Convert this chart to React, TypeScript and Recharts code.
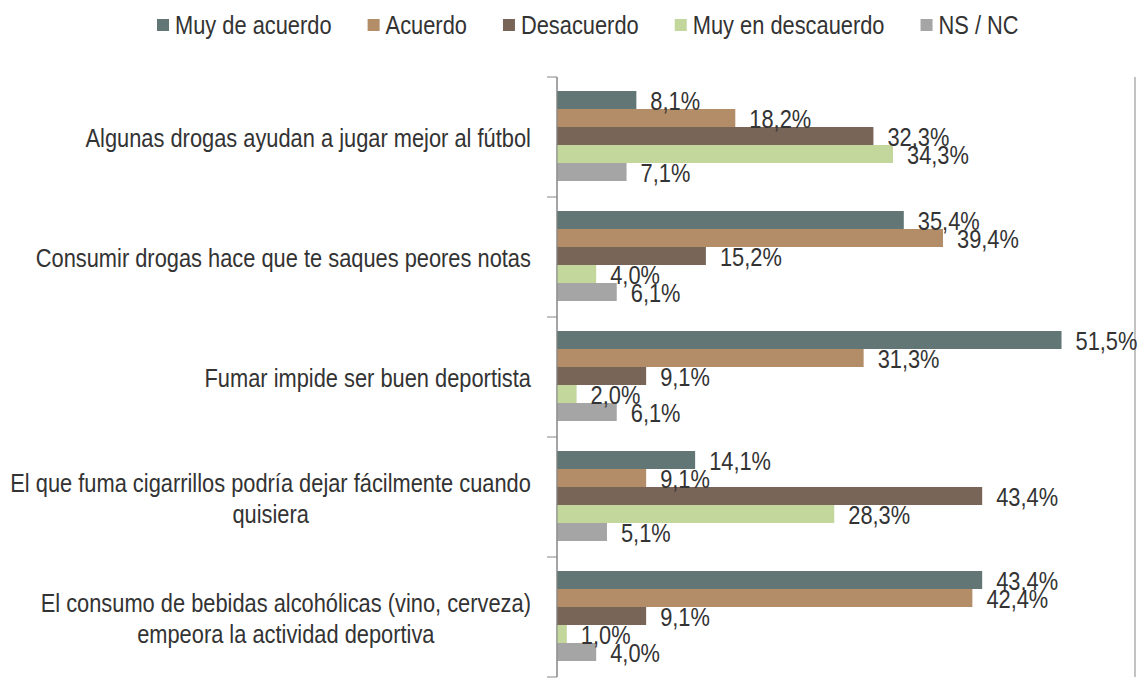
import { BarChart, Bar, XAxis, YAxis, CartesianGrid, LabelList } from 'recharts'

const categories = [
  'Algunas drogas ayudan a jugar mejor al fútbol',
  'Consumir drogas hace que te saques peores notas',
  'Fumar impide ser buen deportista',
  'El que fuma cigarrillos podría dejar fácilmente cuando\nquisiera',
  'El consumo de bebidas alcohólicas (vino, cerveza)\nempeora la actividad deportiva',
]

const seriesNames = ['Muy de acuerdo', 'Acuerdo', 'Desacuerdo', 'Muy en descauerdo', 'NS / NC']
const seriesColors = ['#627675', '#B38D68', '#786558', '#C3D69B', '#A5A5A5']

const muyDeAcuerdo = [8.1, 35.4, 51.5, 14.1, 43.4]
const acuerdo = [18.2, 39.4, 31.3, 9.1, 42.4]
const desacuerdo = [32.3, 15.2, 9.1, 43.4, 9.1]
const muyEnDesacuerdo = [34.3, 4.0, 2.0, 28.3, 1.0]
const nsnc = [7.1, 6.1, 6.1, 5.1, 4.0]

const xTicks = [0, 10, 20, 30, 40, 50]

const seriesValues = [muyDeAcuerdo, acuerdo, desacuerdo, muyEnDesacuerdo, nsnc]
const keys = ['s0', 's1', 's2', 's3', 's4']

const data = categories.map((name, i) => {
  const row: Record<string, string | number> = { name }
  seriesValues.forEach((vals, s) => {
    row[keys[s]] = vals[i]
  })
  return row
})

// no narrow font installed, so squeeze Liberation Sans horizontally
const FONT = "'Liberation Sans', Arial, sans-serif"
const FS = 26
const SX = 0.84
const TEXT = '#333333'
const GRID = '#868686'

const W = 1138
const H = 678
const MARGIN = { top: 77, right: 3, bottom: 1, left: 0 }
const Y_WIDTH = 557
const TICK_MARGIN = 26
const BAND = (H - MARGIN.top - MARGIN.bottom) / categories.length

let ctx: CanvasRenderingContext2D | null = null
function measure(t: string) {
  if (!ctx) {
    ctx = document.createElement('canvas').getContext('2d')
    if (ctx) ctx.font = `${FS}px ${FONT}`
  }
  return ctx ? ctx.measureText(t).width * SX : t.length * FS * 0.45
}

function SqText({ x, y, anchor, children }: { x: number; y: number; anchor: 'start' | 'middle' | 'end'; children: string }) {
  return (
    <text
      transform={`translate(${x},${y}) scale(${SX},1)`}
      textAnchor={anchor}
      dominantBaseline="central"
      fontFamily={FONT}
      fontSize={FS}
      fill={TEXT}
    >
      {children}
    </text>
  )
}

function CatTick(props: any) {
  const { x, y, payload, index } = props
  const lines = String(payload.value).split('\n')
  const maxW = Math.max(...lines.map(measure))
  const axisX = x + TICK_MARGIN
  const lineH = 31
  const startY = y + 1 - ((lines.length - 1) * lineH) / 2
  const center = x - maxW / 2
  return (
    <g>
      <line x1={axisX - 10} x2={axisX} y1={y - BAND / 2} y2={y - BAND / 2} stroke={GRID} />
      {index === categories.length - 1 && (
        <line x1={axisX - 10} x2={axisX} y1={y + BAND / 2} y2={y + BAND / 2} stroke={GRID} />
      )}
      {lines.map((l, i) => (
        <SqText key={i} x={center} y={startY + i * lineH} anchor="middle">
          {l}
        </SqText>
      ))}
    </g>
  )
}

function ValueLabel(props: any) {
  const { x, y, width, height, value } = props
  return (
    <SqText x={x + width + 14} y={y + height / 2 + 1} anchor="start">
      {Number(value).toFixed(1).replace('.', ',') + '%'}
    </SqText>
  )
}

function TopLegend() {
  let cx = 157
  const items = seriesNames.map((n, i) => {
    const x = cx
    cx += 12 + 6 + measure(n) + 36
    return (
      <g key={n}>
        <rect x={x} y={19} width={12} height={12} fill={seriesColors[i]} />
        <SqText x={x + 18} y={25} anchor="start">
          {n}
        </SqText>
      </g>
    )
  })
  return (
    <svg width={W} height={60} style={{ position: 'absolute', left: 0, top: 0 }}>
      {items}
    </svg>
  )
}

export default function App() {
  return (
    <div style={{ position: 'absolute', left: 0, top: 0, width: W, height: H, background: '#fff', overflow: 'hidden' }}>
      <BarChart
        width={W}
        height={H}
        data={data}
        layout="vertical"
        margin={MARGIN}
        barCategoryGap={14}
        barGap={0}
      >
        <CartesianGrid horizontal={false} stroke={GRID} />
        <XAxis
          type="number"
          domain={[0, 59]}
          ticks={xTicks}
          allowDataOverflow
          axisLine={false}
          tickLine={false}
          tick={false}
          height={0}
        />
        <YAxis
          type="category"
          dataKey="name"
          width={Y_WIDTH}
          axisLine={{ stroke: GRID }}
          tickLine={false}
          tickSize={0}
          tickMargin={TICK_MARGIN}
          interval={0}
          tick={<CatTick />}
        />
        {keys.map((k, i) => (
          <Bar key={k} dataKey={k} name={seriesNames[i]} fill={seriesColors[i]} isAnimationActive={false}>
            <LabelList dataKey={k} content={<ValueLabel />} />
          </Bar>
        ))}
      </BarChart>
      <TopLegend />
    </div>
  )
}
